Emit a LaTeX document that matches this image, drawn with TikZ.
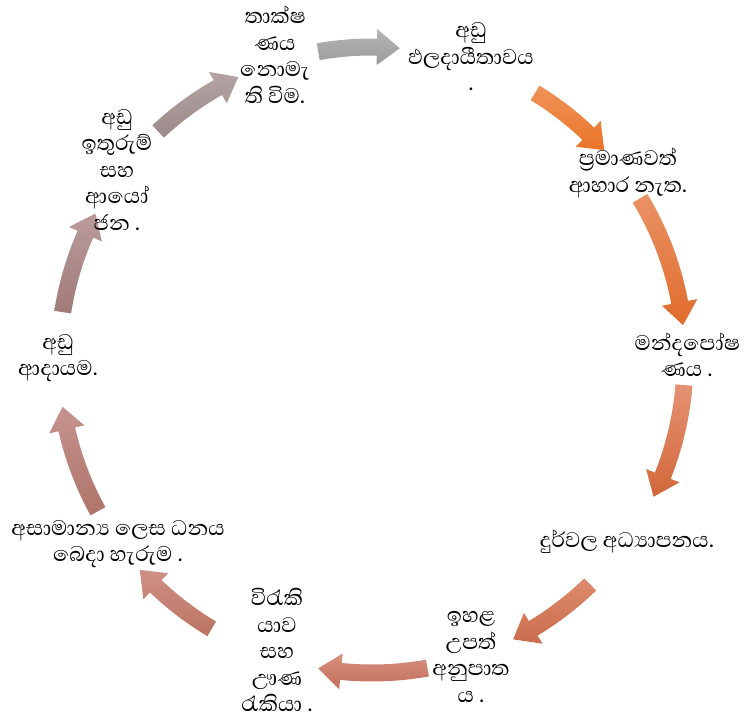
\documentclass[tikz,border=0pt]{standalone}
\usepackage{fontspec}
\setmainfont[Script=Sinhala]{Abhaya Libre}
\newcommand\zwj{^^^^200d}
\newcommand\cyclarrow[4]{%
  \pgfmathsetmacro\aA{90-#1}%
  \pgfmathsetmacro\aT{90-#2}%
  \pgfmathsetmacro\aB{90-#2+4.2}%
  \shade[top color=#3,bottom color=#4,shift={(372,361)}]
    (\aA:321.5) arc[start angle=\aA,end angle=\aB,radius=321.5]
    -- (\aB:331) -- (\aT:313) -- (\aB:295) -- (\aB:304.5)
    arc[start angle=\aB,end angle=\aA,radius=304.5] -- cycle;}
\definecolor{a1t}{HTML}{B4B4B4}\definecolor{a1b}{HTML}{9C9C9C}
\definecolor{a2t}{HTML}{F0935A}\definecolor{a2b}{HTML}{EA7427}
\definecolor{a3t}{HTML}{EA9266}\definecolor{a3b}{HTML}{E06C2C}
\definecolor{a4t}{HTML}{E49272}\definecolor{a4b}{HTML}{D2673A}
\definecolor{a5t}{HTML}{DD8C6E}\definecolor{a5b}{HTML}{C96C4C}
\definecolor{a6t}{HTML}{D69080}\definecolor{a6b}{HTML}{C46F5B}
\definecolor{a7t}{HTML}{CF9084}\definecolor{a7b}{HTML}{BC7464}
\definecolor{a8t}{HTML}{C5938E}\definecolor{a8b}{HTML}{AF746A}
\definecolor{a9t}{HTML}{BA9C9B}\definecolor{a9b}{HTML}{A07A79}
\definecolor{a10t}{HTML}{B3A3A3}\definecolor{a10b}{HTML}{9D8A8A}
\tikzset{lbl/.style={align=center,inner sep=0pt,font=\fontsize{27}{26.5}\selectfont}}
\begin{document}
\begin{tikzpicture}[x=1pt,y=1pt]
\useasboundingbox (0,0) rectangle (745,721);
\cyclarrow{-9.9}{5.1}{a1t}{a1b}
\cyclarrow{31.4}{47.9}{a2t}{a2b}
\cyclarrow{58.9}{83.6}{a3t}{a3b}
\cyclarrow{94.6}{115.9}{a4t}{a4b}
\cyclarrow{135.8}{153.2}{a5t}{a5b}
\cyclarrow{169.8}{189.9}{a6t}{a6b}
\cyclarrow{210.8}{227.9}{a7t}{a7b}
\cyclarrow{241.1}{261.4}{a8t}{a8b}
\cyclarrow{278.8}{297.9}{a9t}{a9b}
\cyclarrow{316.9}{334.7}{a10t}{a10b}
\node[lbl] (t1) at (275,666) {තාක්ෂ\\ණය\\නොමැ\\ති විම.};
\node[lbl] (t2) at (471,664) {අඩු\\ඵලදායීතාවය\\.};
\node[lbl] (t3) at (628,548) {ප්\zwj{}රමාණවත්\\ආහාර නැත.};
\node[lbl] (t4) at (687,366) {මන්දපෝෂ\\ණය .};
\node[lbl] (t5) at (627,179) {දුර්වල අධ්\zwj{}යාපනය.};
\node[lbl] (t6) at (471,64) {ඉහළ\\උපත්\\අනුපාත\\ය .};
\node[lbl] (t7) at (277,71) {විරැකි\\යාව\\සහ\\ඌණ\\රැකියා .};
\node[lbl] (t8) at (118,177) {අසාමාන්\zwj{}ය ලෙස ධනය\\බෙදා හැරුම .};
\node[lbl] (t9) at (58,363) {අඩු\\ආදායම.};
\node[lbl] (t10) at (117,551) {අඩු\\ඉතුරුම්\\සහ\\ආයෝ\\ජන .};
\end{tikzpicture}
\end{document}
